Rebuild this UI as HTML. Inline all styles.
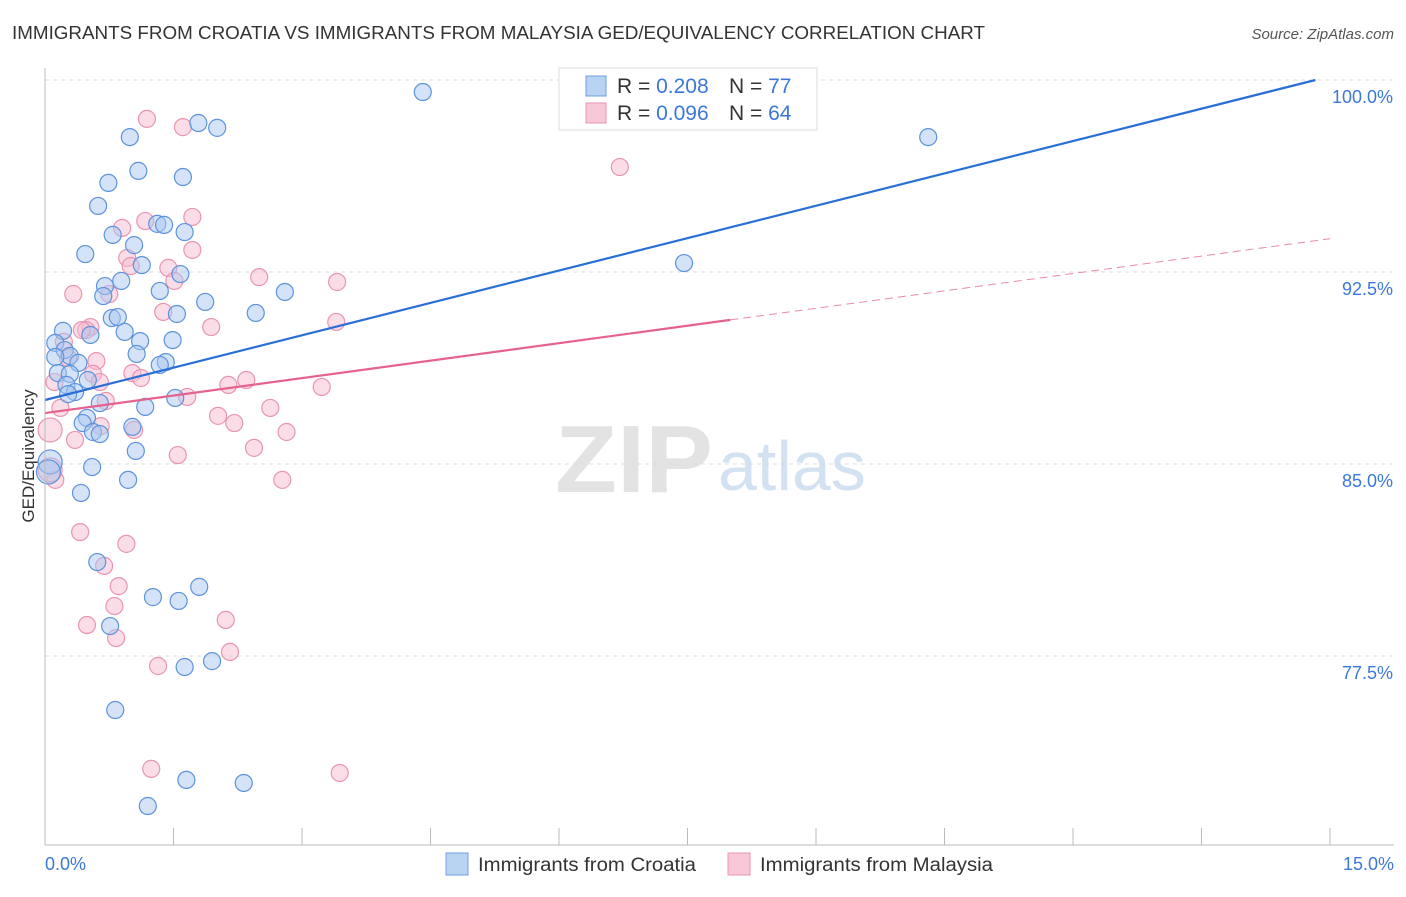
<!DOCTYPE html>
<html><head><meta charset="utf-8"><style>
body{margin:0;background:#fff;font-family:"Liberation Sans",sans-serif;}
svg text{font-family:"Liberation Sans",sans-serif;}
</style></head><body>
<svg id="chart" width="1406" height="892" xmlns="http://www.w3.org/2000/svg">
<text x="12" y="39" font-size="18" fill="#333" textLength="973" lengthAdjust="spacingAndGlyphs">IMMIGRANTS FROM CROATIA VS IMMIGRANTS FROM MALAYSIA GED/EQUIVALENCY CORRELATION CHART</text>
<text x="1394" y="39" font-size="15" fill="#555" text-anchor="end" font-style="italic">Source: ZipAtlas.com</text>
<g id="grid"></g>
<text x="555" y="492" font-size="96" fill="#ddd" font-family="Liberation Serif" font-weight="bold" opacity="0.8" textLength="158" lengthAdjust="spacingAndGlyphs">ZIP</text>
<text x="718" y="490" font-size="70" fill="#c9dcf0" opacity="0.8">atlas</text>
<g id="pts"></g>
<g id="lines"></g>
<line x1="45" y1="68" x2="45" y2="845" stroke="#bbb"/>
<line x1="45" y1="845" x2="1394" y2="845" stroke="#bbb"/>
<text transform="translate(34,456) rotate(-90)" font-size="17" fill="#333" text-anchor="middle">GED/Equivalency</text>
<text x="45" y="870" font-size="18" fill="#3b78d8">0.0%</text>
<text x="1394" y="870" font-size="18" fill="#3b78d8" text-anchor="end">15.0%</text>
<g>
<rect x="559" y="68" width="258" height="62" fill="#fff" stroke="#ddd"/>
<rect x="586" y="76" width="20" height="20" fill="#b9d3f3" stroke="#6f9fe0"/>
<rect x="586" y="103" width="20" height="20" fill="#f8c8d8" stroke="#ea95b2"/>
<text x="617" y="93" font-size="21" fill="#333">R = <tspan fill="#3b78d8">0.208</tspan></text>
<text x="729" y="93" font-size="21" fill="#333">N = <tspan fill="#3b78d8">77</tspan></text>
<text x="617" y="120" font-size="21" fill="#333">R = <tspan fill="#3b78d8">0.096</tspan></text>
<text x="729" y="120" font-size="21" fill="#333">N = <tspan fill="#3b78d8">64</tspan></text>
</g>
<g>
<rect x="446" y="853" width="22" height="22" fill="#b9d3f3" stroke="#6f9fe0"/>
<text x="478" y="871" font-size="19" fill="#333" textLength="218" lengthAdjust="spacingAndGlyphs">Immigrants from Croatia</text>
<rect x="728" y="853" width="22" height="22" fill="#f8c8d8" stroke="#ea95b2"/>
<text x="760" y="871" font-size="19" fill="#333" textLength="233" lengthAdjust="spacingAndGlyphs">Immigrants from Malaysia</text>
</g>
</svg>
<script>
const yTicks=[100,92.5,85,77.5];
const yTickLabels=["100.0%","92.5%","85.0%","77.5%"];
const xTicks=[0,1.5,3,4.5,6,7.5,9,10.5,12,13.5,15];
const croatiaX=[4.41,10.31,7.46,1.79,2.01,0.99,1.09,1.61,0.74,0.62,1.31,1.63,1.39,0.79,1.04,0.47,1.13,1.58,0.89,0.70,0.68,1.34,1.87,2.80,2.46,1.54,0.78,0.85,0.93,0.21,0.53,1.11,1.49,0.12,0.23,1.07,0.29,0.12,1.41,1.34,0.39,0.15,0.29,0.50,0.25,0.35,0.27,1.52,0.64,1.17,0.49,0.44,1.02,0.56,0.64,1.06,0.06,0.55,0.04,0.97,0.42,0.61,1.80,1.26,1.56,0.76,1.63,1.95,0.82,1.65,2.32,1.20];
const croatiaY=[99.53,97.77,92.85,98.32,98.13,97.77,96.45,96.21,95.98,95.08,94.38,94.06,94.34,93.95,93.55,93.20,92.77,92.42,92.15,91.95,91.56,91.76,91.33,91.72,90.90,90.86,90.70,90.74,90.16,90.20,90.04,89.80,89.84,89.73,89.45,89.30,89.22,89.18,88.98,88.87,88.95,88.55,88.52,88.28,88.09,87.81,87.73,87.58,87.38,87.23,86.80,86.60,86.45,86.25,86.17,85.51,85.08,84.88,84.69,84.38,83.87,81.17,80.20,79.80,79.65,78.67,77.07,77.30,75.39,72.66,72.54,71.64];
const malaysiaX=[1.19,1.61,6.71,1.17,1.72,0.90,1.72,0.96,1.00,1.44,1.51,2.50,3.41,0.33,0.75,1.38,3.40,1.94,0.53,0.48,0.43,0.22,0.27,0.60,0.11,0.56,1.02,1.12,0.64,2.35,2.14,3.23,1.66,0.71,0.18,2.63,2.02,2.21,0.65,1.04,2.82,0.35,2.44,1.55,2.77,0.12,0.06,0.41,0.95,0.69,0.86,0.81,0.49,2.11,0.83,2.16,1.32,1.24,3.44,0.06];
const malaysiaY=[98.48,98.16,96.60,94.49,94.65,94.22,93.36,93.05,92.73,92.66,92.15,92.30,92.11,91.64,91.64,90.94,90.55,90.35,90.35,90.23,90.23,89.77,89.14,89.02,88.20,88.52,88.55,88.36,88.20,88.28,88.09,88.01,87.62,87.46,87.19,87.19,86.88,86.60,86.48,86.33,86.25,85.94,85.63,85.35,84.38,84.38,86.33,82.34,81.88,81.02,80.23,79.45,78.71,78.91,78.20,77.66,77.11,73.09,72.93,84.77];
const croatiaTrend=[87.5,100.0,14.83];
const malaysiaTrend=[86.99,90.63,8.0,93.8];
const X=v=>45+v*1285/15, Y=v=>80+(100-v)*25.6;
const NS="http://www.w3.org/2000/svg";
function mk(t,a,p){const e=document.createElementNS(NS,t);for(const k in a)e.setAttribute(k,a[k]);p.appendChild(e);return e;}
const grid=document.getElementById('grid');
yTicks.forEach((v,i)=>{
 const l=mk('line',{x1:45,x2:1394,y1:Y(v),y2:Y(v),stroke:'#ddd','stroke-dasharray':'4,4'},grid);
 
 
 const t=mk('text',{x:1393,y:Y(v)+23,'font-size':18,fill:'#3b78d8','text-anchor':'end'},grid);
 t.textContent=yTickLabels[i];
 
 
});
xTicks.forEach(v=>{
 const l=mk('line',{x1:X(v),x2:X(v),y1:828,y2:845,stroke:'#bbb'},grid);
 
 
});
const pts=document.getElementById('pts');
function dots(xs,ys,fill,stroke,name){
 xs.forEach((x,i)=>{
  const r=x<0.1?12:8.5;
  const c=mk('circle',{cx:X(x),cy:Y(ys[i]),r:r,fill:fill,'fill-opacity':0.5,stroke:stroke,'stroke-width':1.2},pts);
  
  
 });
}
dots(malaysiaX,malaysiaY,'#f6bcd0','#e995b2','malaysia-point');
dots(croatiaX,croatiaY,'#a9c8f0','#5d93dc','croatia-point');
const lines=document.getElementById('lines');
const bl=mk('line',{x1:X(0),y1:Y(croatiaTrend[0]),x2:X(croatiaTrend[2]),y2:Y(croatiaTrend[1]),stroke:'#2a6fd6','stroke-width':2.2},lines);


const pl=mk('line',{x1:X(0),y1:Y(malaysiaTrend[0]),x2:X(malaysiaTrend[2]),y2:Y(malaysiaTrend[1]),stroke:'#e5628f','stroke-width':2.2},lines);


const pd=mk('line',{x1:X(malaysiaTrend[2]),y1:Y(malaysiaTrend[1]),x2:X(15),y2:Y(malaysiaTrend[3]),stroke:'#e98aab','stroke-width':1,'stroke-dasharray':'8,5'},lines);


</script>
</body></html>
